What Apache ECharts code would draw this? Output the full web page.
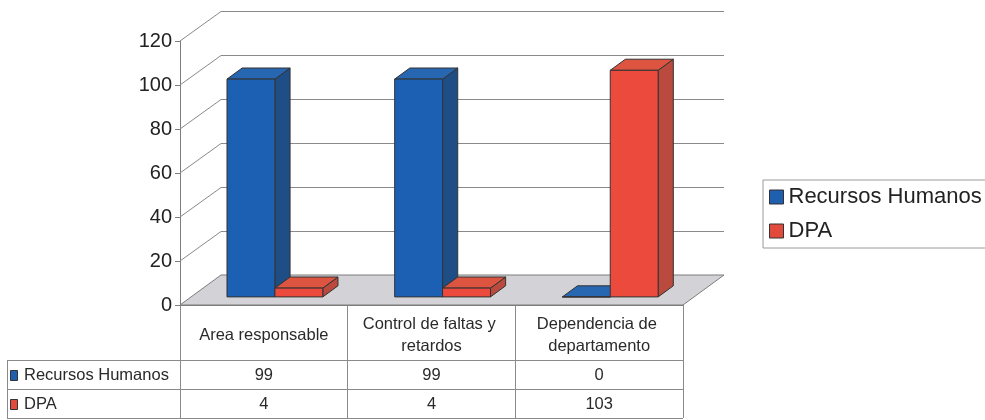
<!DOCTYPE html>
<html>
<head>
<meta charset="utf-8">
<script src="https://cdn.jsdelivr.net/npm/echarts@6/dist/echarts.min.js"></script>
<style>
  html, body { margin: 0; padding: 0; background: #fff; }
  #chart { width: 985px; height: 420px; }
</style>
</head>
<body>
<div id="chart"></div>
<script>
// Chart data
const categories = ['Area responsable', 'Control de faltas y retardos', 'Dependencia de departamento'];
const seriesNames = ['Recursos Humanos', 'DPA'];
const recursosHumanos = [99, 99, 0];
const dpa = [4, 4, 103];
const yTicks = [0, 20, 40, 60, 80, 100, 120];

// Layout and style
const FONT = '"Liberation Sans", Arial, Helvetica, sans-serif';
const GRID = { left: 180, right: 302, top: 41, bottom: 115 };
const DEPTH_X = 41, DEPTH_Y = -30;        // oblique offset from front plane to back wall
const BAR_FRONT = 0.27, BAR_BACK = 0.64;  // bar slab position inside the floor depth
const GAP_RATIO = 1.5;                    // gap between category groups, in bar widths
const TABLE_ROWS = [360, 389, 418];       // horizontal rules of the data table
const TABLE_LEFT = 7;
const LINE_GREY = '#8a8a8a';

const palettes = [
  { front: '#1c60b3', top: '#2767b2', side: '#1f4d85', legend: '#1f5fb0' },
  { front: '#ec4a3c', top: '#dd5440', side: '#b94a3d', legend: '#e24a3b' }
];
const seriesValues = [recursosHumanos, dpa];

const crisp = v => Math.round(v) + 0.5;

// Back wall / side wall grid lines and the floor
function wallRenderer(params, api) {
  const cs = params.coordSys;
  const L = cs.x, R = cs.x + cs.width;
  const t = api.value(1);
  const y = api.coord([0, t])[1];
  const children = [];
  if (t === 0) {
    children.push({
      type: 'polygon',
      shape: { points: [[L, y], [R, y], [R + DEPTH_X, y + DEPTH_Y], [L + DEPTH_X, y + DEPTH_Y]] },
      style: { fill: '#d3d3d7', stroke: '#7d7d7d', lineWidth: 1 }
    });
  } else {
    const yb = crisp(y + DEPTH_Y);
    children.push({
      type: 'line',
      shape: { x1: L, y1: y, x2: L + DEPTH_X, y2: yb },
      style: { stroke: LINE_GREY, lineWidth: 1 }
    });
    children.push({
      type: 'line',
      shape: { x1: L + DEPTH_X, y1: yb, x2: R + DEPTH_X, y2: yb },
      style: { stroke: LINE_GREY, lineWidth: 1 }
    });
  }
  return { type: 'group', children };
}

// 3D bar: side face, top face and front face
function barRenderer(seriesIdx) {
  return function (params, api) {
    const i = api.value(0), v = api.value(1);
    const band = api.size([1, 0])[0];
    const w = band / (2 + GAP_RATIO);
    const base = api.coord([i, 0]);
    const peak = api.coord([i, v]);
    const ox = BAR_FRONT * DEPTH_X, oy = BAR_FRONT * DEPTH_Y;
    const dx = (BAR_BACK - BAR_FRONT) * DEPTH_X, dy = (BAR_BACK - BAR_FRONT) * DEPTH_Y;
    const xl = base[0] - w + seriesIdx * w + ox;
    const xr = xl + w;
    const yb = base[1] + oy, yt = peak[1] + oy;
    const p = palettes[seriesIdx];
    const edge = { stroke: '#333', lineWidth: 1, lineJoin: 'round' };
    return {
      type: 'group',
      children: [
        { type: 'polygon', shape: { points: [[xr, yt], [xr, yb], [xr + dx, yb + dy], [xr + dx, yt + dy]] },
          style: Object.assign({ fill: p.side }, edge) },
        { type: 'polygon', shape: { points: [[xl, yt], [xr, yt], [xr + dx, yt + dy], [xl + dx, yt + dy]] },
          style: Object.assign({ fill: p.top }, edge) },
        { type: 'rect', shape: { x: xl, y: yt, width: w, height: yb - yt },
          style: Object.assign({ fill: p.front }, edge) }
      ]
    };
  };
}

const chart = echarts.init(document.getElementById('chart'), null, { renderer: 'canvas' });

const gridRight = 985 - GRID.right;
const tableGraphics = [];
TABLE_ROWS.forEach(y => {
  tableGraphics.push({ type: 'line', shape: { x1: TABLE_LEFT, y1: crisp(y), x2: gridRight, y2: crisp(y) },
    style: { stroke: LINE_GREY, lineWidth: 1 }, silent: true });
});
tableGraphics.push({ type: 'line', shape: { x1: crisp(TABLE_LEFT), y1: TABLE_ROWS[0], x2: crisp(TABLE_LEFT), y2: TABLE_ROWS[2] },
  style: { stroke: LINE_GREY, lineWidth: 1 }, silent: true });
seriesNames.forEach((name, k) => {
  const cy = (TABLE_ROWS[k] + TABLE_ROWS[k + 1]) / 2;
  tableGraphics.push({ type: 'rect', shape: { x: 10.5, y: Math.round(cy - 5) + 0.5, width: 7, height: 10 },
    style: { fill: palettes[k].legend, stroke: '#333', lineWidth: 1 }, silent: true });
  tableGraphics.push({ type: 'text', x: 24, y: cy + 1,
    style: { text: name, font: '16.5px ' + FONT, fill: '#2a2a2a', verticalAlign: 'middle', textAlign: 'left' }, silent: true });
});

const valueAxis = (values, margin) => ({
  type: 'category',
  data: categories,
  gridIndex: 0,
  position: 'bottom',
  axisLine: { show: false },
  axisTick: { show: false },
  splitLine: { show: false },
  axisLabel: {
    interval: 0, margin: margin, verticalAlign: 'middle',
    fontFamily: FONT, fontSize: 16.5, color: '#2a2a2a',
    formatter: (v, idx) => String(values[idx])
  }
});

chart.setOption({
  animation: false,
  backgroundColor: '#ffffff',
  grid: { left: GRID.left, right: GRID.right, top: GRID.top, bottom: GRID.bottom, outerBoundsMode: 'none', containLabel: false },
  legend: {
    data: seriesNames,
    orient: 'vertical',
    left: 763, top: 180,
    icon: 'rect',
    itemWidth: 14, itemHeight: 14, itemGap: 10,
    padding: [5, 30, 5, 6],
    borderColor: '#9a9a9a', borderWidth: 1, borderRadius: 0,
    backgroundColor: '#ffffff',
    itemStyle: { borderColor: '#333', borderWidth: 1 },
    textStyle: { fontFamily: FONT, fontSize: 22, lineHeight: 24, color: '#222' }
  },
  xAxis: [
    {
      type: 'category',
      data: categories,
      position: 'bottom',
      boundaryGap: true,
      axisLine: { show: true, lineStyle: { color: '#7d7d7d', width: 1 } },
      axisTick: { show: true, length: TABLE_ROWS[2] - (420 - GRID.bottom), interval: 0, lineStyle: { color: LINE_GREY, width: 1 } },
      splitLine: { show: false },
      axisLabel: {
        interval: 0, margin: 30, verticalAlign: 'middle',
        width: 150, overflow: 'break', lineHeight: 22,
        fontFamily: FONT, fontSize: 16.5, color: '#2a2a2a', align: 'center'
      }
    },
    valueAxis(recursosHumanos, 70),
    valueAxis(dpa, 99)
  ],
  yAxis: {
    type: 'value',
    min: 0, max: 120, interval: 20,
    axisLine: { show: true, lineStyle: { color: '#7d7d7d', width: 1 } },
    axisTick: { show: true, length: 5, lineStyle: { color: '#7d7d7d' } },
    splitLine: { show: false },
    axisLabel: { margin: 8, fontFamily: FONT, fontSize: 20, color: '#222',
      formatter: v => (yTicks.indexOf(v) >= 0 ? String(v) : '') }
  },
  series: [
    {
      type: 'custom', name: '_walls', silent: true, z: 1,
      renderItem: wallRenderer,
      data: yTicks.map(t => [0, t])
    }
  ].concat(seriesNames.map((name, s) => ({
    type: 'custom', name: name, z: 3,
    itemStyle: { color: palettes[s].legend },
    renderItem: barRenderer(s),
    data: seriesValues[s].map((v, i) => [i, v])
  }))),
  graphic: tableGraphics
});
</script>
</body>
</html>
